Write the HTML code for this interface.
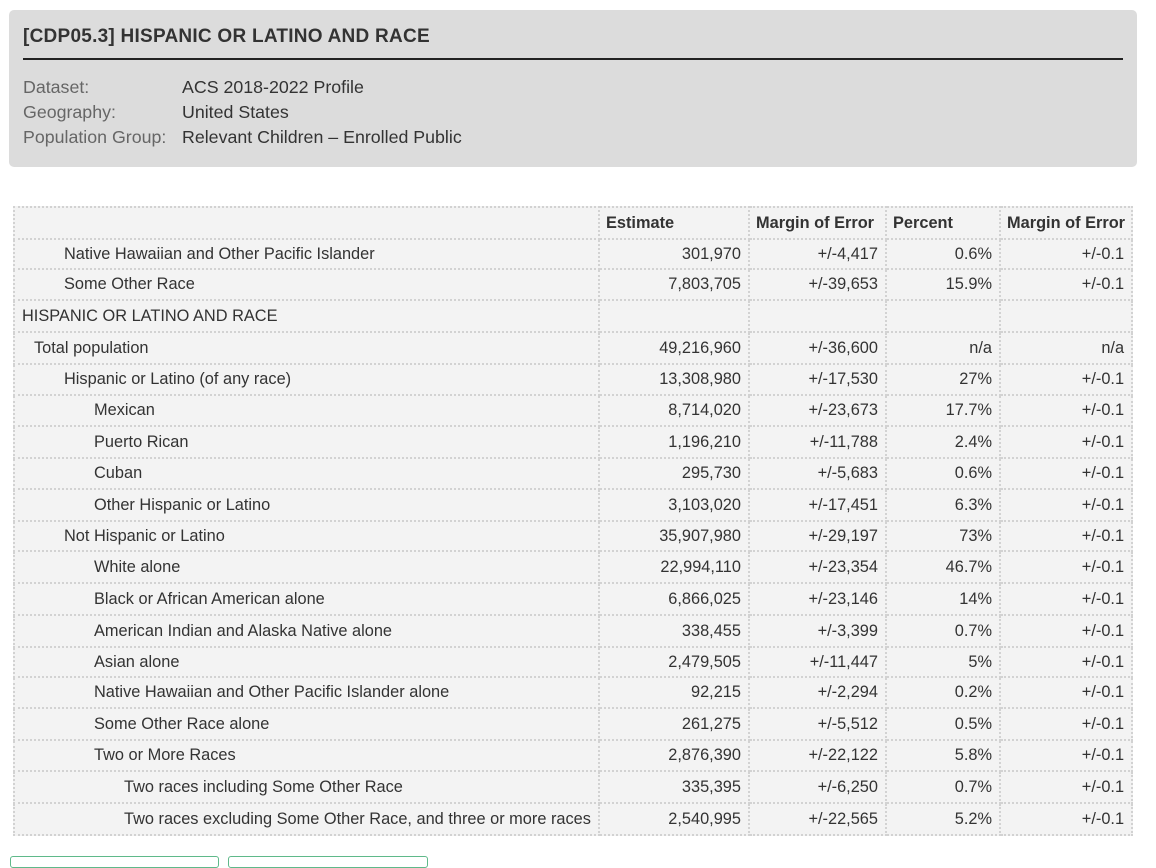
<!DOCTYPE html>
<html><head><meta charset="utf-8">
<style>
body{margin:0;width:1156px;height:858px;overflow:hidden;background:#fff;font-family:"Liberation Sans",Arial,sans-serif;position:relative}
.hdr{position:absolute;left:9px;top:10px;width:1128px;height:157px;background:#dcdcdc;border-radius:5px}
.title{position:absolute;left:14px;top:16px;font-size:19px;letter-spacing:0.25px;font-weight:bold;color:#333}
.rule{position:absolute;left:14px;top:48px;width:1100px;height:2px;background:#222}
.meta{position:absolute;left:14px;font-size:17.8px;color:#666}
.meta span{position:absolute;left:159px;color:#333;white-space:nowrap}
table{position:absolute;left:13px;top:206px;border-collapse:collapse;table-layout:fixed;background:#f3f3f3;font-size:16.35px;color:#333}
td,th{border:2px dotted #d2d2d2;padding:0 7px;white-space:nowrap;box-sizing:border-box}
th{font-weight:bold;text-align:left;height:32px;padding:0 6px}
td.n{text-align:right}
.btn{position:absolute;top:856px;height:10px;background:#fff;border:1px solid #5fb98a;border-radius:3px}
</style></head><body>
<div class="hdr">
<div class="title">[CDP05.3] HISPANIC OR LATINO AND RACE</div>
<div class="rule"></div>
<div class="meta" style="top:67px">Dataset:<span>ACS 2018-2022 Profile</span></div>
<div class="meta" style="top:92px">Geography:<span>United States</span></div>
<div class="meta" style="top:117px">Population Group:<span>Relevant Children – Enrolled Public</span></div>
</div>
<table>
<colgroup><col style="width:585px"><col style="width:150px"><col style="width:137px"><col style="width:114px"><col style="width:132px"></colgroup>
<thead><tr><th></th><th>Estimate</th><th>Margin of Error</th><th>Percent</th><th>Margin of Error</th></tr></thead>
<tbody id="tb"></tbody>
</table>
<div class="btn" style="left:10px;width:207px"></div>
<div class="btn" style="left:228px;width:198px"></div>
<script>
const labels=["Native Hawaiian and Other Pacific Islander","Some Other Race","HISPANIC OR LATINO AND RACE","Total population","Hispanic or Latino (of any race)","Mexican","Puerto Rican","Cuban","Other Hispanic or Latino","Not Hispanic or Latino","White alone","Black or African American alone","American Indian and Alaska Native alone","Asian alone","Native Hawaiian and Other Pacific Islander alone","Some Other Race alone","Two or More Races","Two races including Some Other Race","Two races excluding Some Other Race, and three or more races"];
const levels=[2,2,0,1,2,3,3,3,3,2,3,3,3,3,3,3,3,4,4];
const estimates=["301,970","7,803,705","","49,216,960","13,308,980","8,714,020","1,196,210","295,730","3,103,020","35,907,980","22,994,110","6,866,025","338,455","2,479,505","92,215","261,275","2,876,390","335,395","2,540,995"];
const moes=["+/-4,417","+/-39,653","","+/-36,600","+/-17,530","+/-23,673","+/-11,788","+/-5,683","+/-17,451","+/-29,197","+/-23,354","+/-23,146","+/-3,399","+/-11,447","+/-2,294","+/-5,512","+/-22,122","+/-6,250","+/-22,565"];
const percents=["0.6%","15.9%","","n/a","27%","17.7%","2.4%","0.6%","6.3%","73%","46.7%","14%","0.7%","5%","0.2%","0.5%","5.8%","0.7%","5.2%"];
const pmoes=["+/-0.1","+/-0.1","","n/a","+/-0.1","+/-0.1","+/-0.1","+/-0.1","+/-0.1","+/-0.1","+/-0.1","+/-0.1","+/-0.1","+/-0.1","+/-0.1","+/-0.1","+/-0.1","+/-0.1","+/-0.1"];
const heights=[30,31,32,32,31,31,32,31,32,30,32,32,32,30,31,32,31,32,32];
const indent=[0,12,42,72,102];
const tb=document.getElementById('tb');
labels.forEach((l,i)=>{
 const tr=document.createElement('tr');
 
 
 tr.style.height=heights[i]+'px';
 const vals=[l,estimates[i],moes[i],percents[i],pmoes[i]];
 vals.forEach((v,j)=>{
  const td=document.createElement('td');
  
  
  td.textContent=v;
  if(j==0)td.style.paddingLeft=(7+indent[levels[i]])+'px';else td.className='n';
  tr.appendChild(td);
 });
 tb.appendChild(tr);
});
</script>
</body></html>
